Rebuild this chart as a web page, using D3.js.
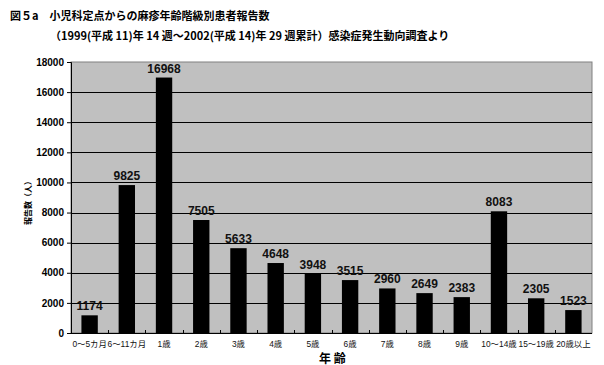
<!DOCTYPE html>
<html><head><meta charset="utf-8">
<script src="https://cdn.jsdelivr.net/npm/d3@7"></script>
<style>body{margin:0;background:#fff}svg{display:block}</style>
</head><body>
<script>
const categories = ["0～5カ月","6～11カ月","1歳","2歳","3歳","4歳","5歳","6歳","7歳","8歳","9歳","10～14歳","15～19歳","20歳以上"];
const values = [1174,9825,16968,7505,5633,4648,3948,3515,2960,2649,2383,8083,2305,1523];
const yTicks = [0,2000,4000,6000,8000,10000,12000,14000,16000,18000];
const title1 = "図５a　小児科定点からの麻疹年齢階級別患者報告数";
const title2 = "（1999(平成 11)年 14 週～2002(平成 14)年 29 週累計）感染症発生動向調査より";

const W=604,H=365, m={l:71,r:12,t:62,b:32};
const svg=d3.select("body").append("svg").attr("width",W).attr("height",H);
const jp='"Noto Sans CJK JP", sans-serif';
const lat='"Liberation Sans", Arial, "Noto Sans CJK JP", sans-serif';
const x=d3.scaleBand().domain(categories).range([m.l,W-m.r]).paddingInner(0.56).paddingOuter(0.28);
const y=d3.scaleLinear().domain([0,18000]).range([H-m.b,m.t]);

svg.append("rect").attr("x",m.l).attr("y",m.t).attr("width",W-m.r-m.l).attr("height",H-m.b-m.t).attr("fill","#c0c0c0").attr("stroke","#808080").attr("stroke-width",1);

svg.append("g").selectAll("line").data(yTicks.slice(1,-1)).join("line")
 .attr("x1",m.l).attr("x2",W-m.r).attr("y1",d=>Math.round(y(d))+0.5).attr("y2",d=>Math.round(y(d))+0.5)
 .attr("stroke","#000").attr("stroke-width",1);

svg.append("g").selectAll("rect").data(values).join("rect")
 .attr("x",(d,i)=>x(categories[i])).attr("width",x.bandwidth())
 .attr("y",d=>y(d)).attr("height",d=>y(0)-y(d)).attr("fill","#000");

svg.append("g").selectAll("text").data(values).join("text")
 .attr("x",(d,i)=>x(categories[i])+x.bandwidth()/2).attr("y",d=>y(d)-5)
 .attr("text-anchor","middle").attr("font-family",lat).attr("font-weight","bold").attr("font-size",12).attr("fill","#111").text(d=>d);

// y axis
const ya=svg.append("g").attr("transform",`translate(${m.l},0)`)
 .call(d3.axisLeft(y).tickValues(yTicks).tickSize(4).tickFormat(d3.format("d")));
ya.select(".domain").attr("stroke","#000");
ya.selectAll("text").attr("font-family",lat).attr("font-weight","bold").attr("font-size",10).attr("fill","#000").attr("x",-7);

// x axis
const xa=svg.append("g").attr("transform",`translate(0,${H-m.b})`)
 .call(d3.axisBottom(x).tickSize(0).tickPadding(8));
xa.select(".domain").attr("stroke","#000").attr("d",`M${m.l},0.5H${W-m.r}`);
xa.selectAll("text").attr("font-family",lat).attr("font-size",8.4).attr("fill","#111");
svg.append("g").selectAll("line").data(d3.range(1,categories.length)).join("line")
 .attr("x1",i=>Math.round(m.l+i*(W-m.r-m.l)/categories.length)+0.5)
 .attr("x2",i=>Math.round(m.l+i*(W-m.r-m.l)/categories.length)+0.5)
 .attr("y1",H-m.b).attr("y2",H-m.b-3).attr("stroke","#000");

svg.append("text").attr("x",319).attr("y",363).attr("font-family",jp).attr("font-weight","bold").attr("font-size",12).text("年 齢");
svg.append("text").attr("transform","translate(31,201) rotate(-90)").attr("text-anchor","middle").attr("font-family",jp).attr("font-weight","bold").attr("font-size",8).text("報告数（人）");

svg.append("text").attr("x",10).attr("y",20).attr("font-family",jp).attr("font-weight","bold").attr("font-size",11).text(title1);
svg.append("text").attr("x",50).attr("y",40).attr("font-family",jp).attr("font-weight","bold").attr("font-size",11).text(title2);
</script>
</body></html>
